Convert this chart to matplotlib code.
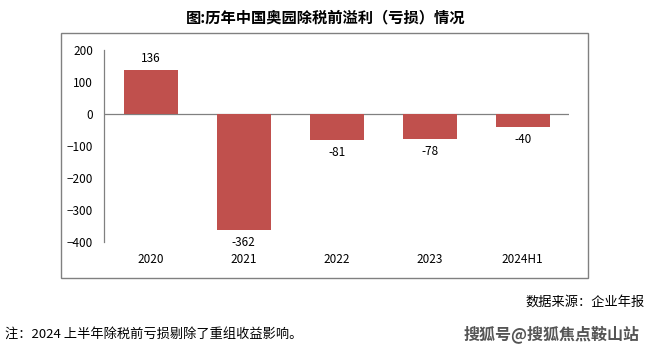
import matplotlib.pyplot as plt
from matplotlib.patches import Rectangle

plt.rcParams['font.family'] = ['Noto Sans CJK SC', 'DejaVu Sans']

# data
years = ['2020', '2021', '2022', '2023', '2024H1']
profit = [136, -362, -81, -78, -40]

fig = plt.figure(figsize=(6.52, 3.54), dpi=100)
ax = fig.add_axes((0.16, 0.316, 0.713, 0.543))

x = range(len(years))
ax.bar(x, profit, width=0.58, color='#C0504D', zorder=2)
ax.axhline(0, color='#808080', lw=0.9, zorder=1)

for i, v in zip(x, profit):
    if v >= 0:
        ax.text(i, v + 18, str(v), ha='center', va='bottom', fontsize=8.5)
    else:
        ax.text(i, v - 18, str(v), ha='center', va='top', fontsize=8.5)

ax.set_xlim(-0.5, len(years) - 0.5)
ax.set_ylim(-400, 200)
ax.set_yticks(range(-400, 201, 100))
ax.set_xticks(list(x))
ax.set_xticklabels(years)
ax.tick_params(axis='y', length=0, labelsize=8.5, pad=8)
ax.tick_params(axis='x', length=0, labelsize=8.5, pad=8)
for s in ['top', 'right', 'bottom']:
    ax.spines[s].set_visible(False)
ax.spines['left'].set_color('#808080')
ax.spines['left'].set_linewidth(0.9)

# frame around chart
fig.patches.append(Rectangle((61 / 652, 1 - 278 / 354), 527 / 652, 245 / 354,
                             transform=fig.transFigure, fill=False,
                             edgecolor='#808080', lw=1.0))

fig.text(0.5, 1 - 17 / 354, '图:历年中国奥园除税前溢利（亏损）情况',
         ha='center', va='center', fontsize=11, fontweight='bold')
fig.text(645 / 652, 1 - 302 / 354, '数据来源：企业年报',
         ha='right', va='center', fontsize=9.5)
fig.text(5 / 652, 1 - 334 / 354, '注：2024 上半年除税前亏损剔除了重组收益影响。',
         ha='left', va='center', fontsize=9.5)
fig.text(640 / 652, 1 - 335 / 354, '搜狐号@搜狐焦点鞍山站',
         ha='right', va='center', fontsize=11.5, fontweight='bold', color='#555555')

fig.savefig('out.png', dpi=100)
